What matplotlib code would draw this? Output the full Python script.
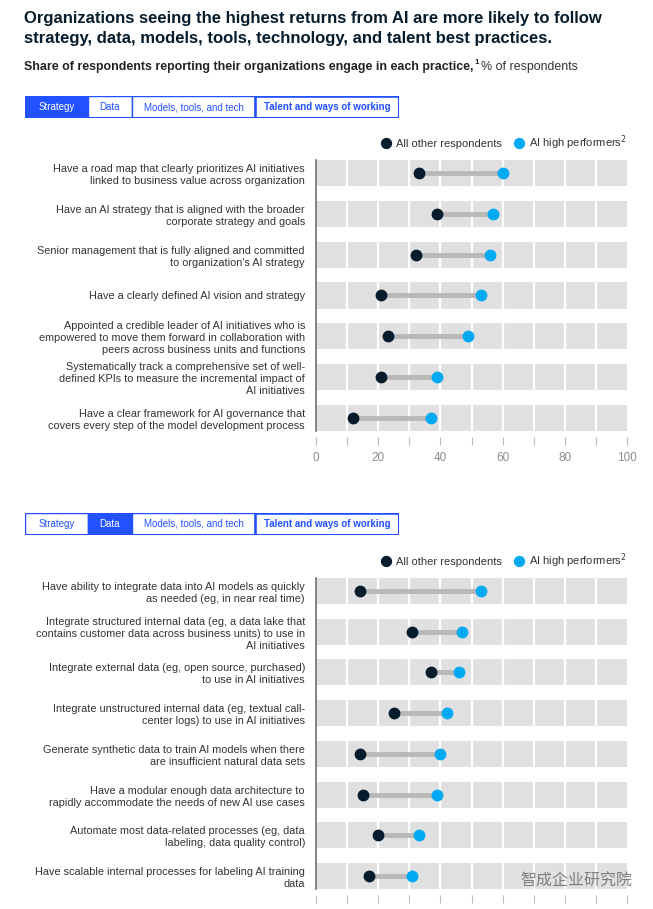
import numpy as np
import matplotlib.pyplot as plt
from matplotlib.patches import Rectangle

plt.rcParams['font.family'] = ['Liberation Sans', 'DejaVu Sans']

# Datos
tabs = ["Strategy", "Data", "Models, tools, and tech", "Talent and ways of working"]

strategy_labels = [
    "Have a road map that clearly prioritizes AI initiatives\nlinked to business value across organization",
    "Have an AI strategy that is aligned with the broader\ncorporate strategy and goals",
    "Senior management that is fully aligned and committed\nto organization's AI strategy",
    "Have a clearly defined AI vision and strategy",
    "Appointed a credible leader of AI initiatives who is\nempowered to move them forward in collaboration with\npeers across business units and functions",
    "Systematically track a comprehensive set of well-\ndefined KPIs to measure the incremental impact of\nAI initiatives",
    "Have a clear framework for AI governance that\ncovers every step of the model development process",
]
strategy_others = [33, 39, 32, 21, 23, 21, 12]
strategy_high = [60, 57, 56, 53, 49, 39, 37]

data_labels = [
    "Have ability to integrate data into AI models as quickly\nas needed (eg, in near real time)",
    "Integrate structured internal data (eg, a data lake that\ncontains customer data across business units) to use in\nAI initiatives",
    "Integrate external data (eg, open source, purchased)\nto use in AI initiatives",
    "Integrate unstructured internal data (eg, textual call-\ncenter logs) to use in AI initiatives",
    "Generate synthetic data to train AI models when there\nare insufficient natural data sets",
    "Have a modular enough data architecture to\nrapidly accommodate the needs of new AI use cases",
    "Automate most data-related processes (eg, data\nlabeling, data quality control)",
    "Have scalable internal processes for labeling AI training\ndata",
]
data_others = [14, 31, 37, 25, 14, 15, 20, 17]
data_high = [53, 47, 46, 42, 40, 39, 33, 31]

# Colores
BLUE_TAB = "#2251FF"
DARK = "#051C2C"
CYAN = "#00A9F4"
BAND = "#E0E0E0"

W, H = 653, 909
fig = plt.figure(figsize=(W / 100, H / 100), dpi=100)


def fx(x):
    return x / W


def fy(y):
    return 1 - y / H


# Títulos
fig.text(fx(24), fy(18), "Organizations seeing the highest returns from AI are more likely to follow",
         ha="left", va="center", fontsize=12, fontweight="bold", color=DARK)
fig.text(fx(24), fy(39), "strategy, data, models, tools, technology, and talent best practices.",
         ha="left", va="center", fontsize=12, fontweight="bold", color=DARK)

renderer = fig.canvas.get_renderer()
t1 = fig.text(fx(24), fy(67), "Share of respondents reporting their organizations engage in each practice,",
              ha="left", va="center", fontsize=8.9, fontweight="bold", color="#222222")
bb = t1.get_window_extent(renderer)
t2 = fig.text(bb.x1 / W + 0.002, fy(63), "1", ha="left", va="center", fontsize=5.8,
              fontweight="bold", color="#222222")
bb2 = t2.get_window_extent(renderer)
fig.text(bb2.x1 / W + 0.002, fy(67), "% of respondents", ha="left", va="center",
         fontsize=8.9, color="#333333")

tab_widths = [63, 44, 123, 144]


def draw_tabs(y_top, active):
    tab_ax = fig.add_axes([fx(25), fy(y_top + 22), sum(tab_widths) / W, 22 / H])
    tab_ax.set_xlim(0, sum(tab_widths))
    tab_ax.set_ylim(0, 1)
    tab_ax.axis("off")
    x0 = 0
    for i, (name, w) in enumerate(zip(tabs, tab_widths)):
        face = BLUE_TAB if i == active else "white"
        tab_ax.add_patch(Rectangle((x0, 0), w, 1, facecolor=face, edgecolor=BLUE_TAB, lw=1.0))
        tab_ax.text(x0 + w / 2, 0.5, name, ha="center", va="center", fontsize=7,
                    color="white" if i == active else BLUE_TAB,
                    fontweight="bold" if i == 3 else "normal")
        x0 += w
    tab_ax.add_patch(Rectangle((sum(tab_widths[:3]), 0), tab_widths[3], 1, facecolor="none",
                               edgecolor=BLUE_TAB, lw=1.8))
    tab_ax.add_patch(Rectangle((0, 0), sum(tab_widths), 1, facecolor="none",
                               edgecolor=BLUE_TAB, lw=1.5))


def draw_panel(band_top, labels, others, high, row_px=40.8, show_xlabels=True):
    n = len(labels)
    h = 0.32
    band_bottom = band_top + (n - 1 + 2 * h) * row_px
    ax = fig.add_axes([fx(316), fy(band_bottom), (627 - 316) / W, (band_bottom - band_top) / H])
    y = np.arange(n)
    ax.barh(y, 100, height=2 * h, color=BAND, zorder=0)
    for v in range(10, 100, 10):
        ax.axvline(v, color="white", lw=1.6, zorder=1)
    ax.hlines(y, others, high, color="#B8B8B8", lw=3.5, zorder=2)
    ax.plot(others, y, "o", color=DARK, ms=7.5, zorder=3, label="All other respondents")
    ax.plot(high, y, "o", color=CYAN, ms=7.5, zorder=3, label="AI high performers$^2$")
    ax.set_xlim(0, 100)
    ax.set_ylim(n - 1 + h, -h)
    for s in ["top", "right", "bottom"]:
        ax.spines[s].set_visible(False)
    ax.spines["left"].set_color("#707070")
    ax.spines["left"].set_linewidth(1.2)
    ax.spines["bottom"].set_position(("outward", 4.3))
    ax.set_yticks(y)
    ax.set_yticklabels(labels, fontsize=7.8, color="#333333", linespacing=1.25)
    ax.tick_params(axis="y", length=0, pad=8)
    ax.set_xticks(range(0, 101, 10))
    if show_xlabels:
        ax.set_xticklabels([str(v) if v % 20 == 0 else "" for v in range(0, 101, 10)])
    else:
        ax.set_xticklabels([])
    ax.tick_params(axis="x", length=6, width=0.8, color="#BBBBBB", labelcolor="#8C8C8C",
                   labelsize=8.5, pad=5)
    ax.legend(loc="lower right", bbox_to_anchor=(1.025, 1.0), ncol=2, frameon=False,
              fontsize=8, handletextpad=0.3, columnspacing=1.0, borderaxespad=0.3,
              handlelength=1.2, labelcolor="#333333", markerscale=0.95)
    return ax


draw_tabs(96, 0)
draw_panel(160, strategy_labels, strategy_others, strategy_high)
draw_tabs(513, 1)
draw_panel(578, data_labels, data_others, data_high, row_px=40.7, show_xlabels=False)

# Marca de agua
fig.text(fx(520), fy(881), "智成企业研究院", ha="left", va="center", fontsize=11.5,
         family=["Noto Sans CJK SC", "DejaVu Sans"], color="#666666", alpha=0.8)

fig.savefig("out.png", dpi=100)
